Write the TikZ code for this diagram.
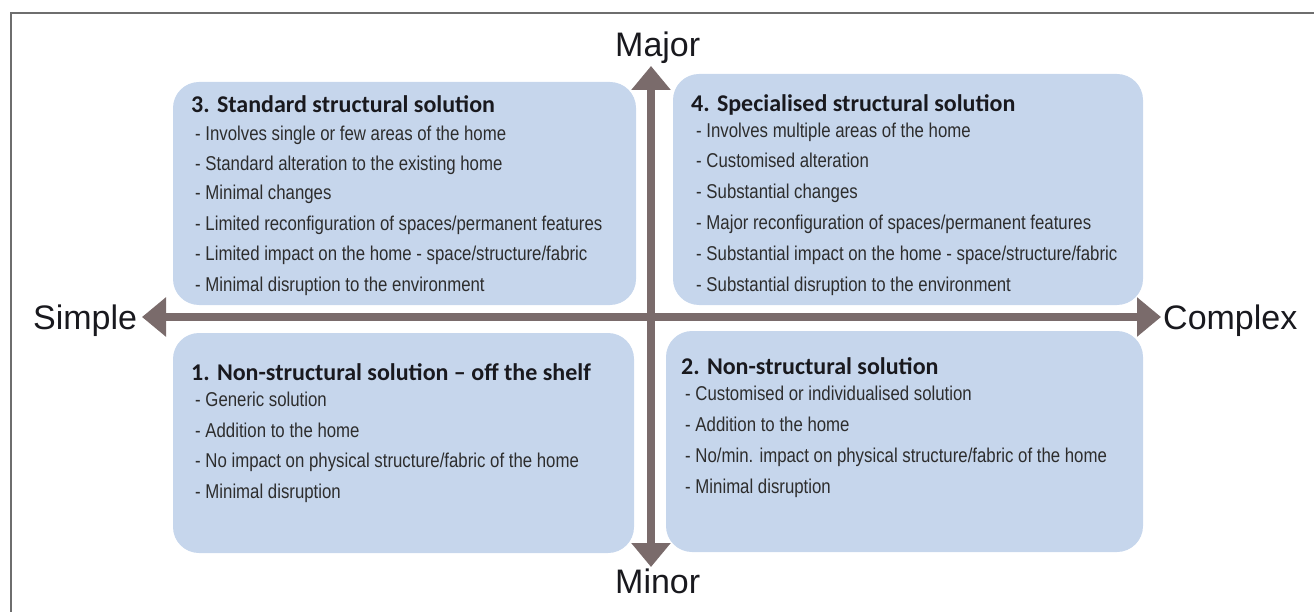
\documentclass[tikz,border=0pt]{standalone}
\usepackage{fontspec}
\setmainfont{Liberation Sans}
\newfontfamily\titlefont{Carlito}
\newfontfamily\bodyfont[FakeStretch=0.84]{Liberation Sans}
\usetikzlibrary{arrows.meta}
\definecolor{boxfill}{RGB}{198,214,236}
\definecolor{axiscol}{RGB}{122,107,107}
\definecolor{framecol}{RGB}{110,110,110}
\definecolor{bodytext}{RGB}{45,45,45}
\definecolor{titletext}{RGB}{25,25,30}
\begin{document}
\begin{tikzpicture}[x=1pt,y=-1pt,
 quad/.style={draw=none, fill=boxfill, rounded corners=26pt, inner sep=0pt},
 ttl/.style={anchor=base west, inner sep=0pt, font=\titlefont\bfseries\fontsize{24}{24}\selectfont, text=titletext},
 itm/.style={anchor=base west, inner sep=0pt, font=\bodyfont\fontsize{20}{20}\selectfont, text=bodytext},
 lbl/.style={anchor=base west, inner sep=0pt, font=\fontsize{34}{34}\selectfont, text=titletext},
 ax/.style={draw=axiscol, line width=8.5pt, {Triangle[width=38pt,length=24pt]}-{Triangle[width=38pt,length=24pt]}}]
\useasboundingbox (0,0) rectangle (1314,612);
\draw[framecol, line width=1.5pt] (11,612) -- (11,13) -- (1314,13);

% quadrant boxes
\node[quad, minimum width=463pt, minimum height=223pt] (b3) at (404.5,193.5) {};
\node[quad, minimum width=470pt, minimum height=231pt] (b4) at (908,189.5) {};
\node[quad, minimum width=461pt, minimum height=220pt] (b1) at (403.5,443) {};
\node[quad, minimum width=477pt, minimum height=221pt] (b2) at (904.5,441.5) {};

% box 3
\node[ttl] (t3) at (191,113) {3. Standard structural solution};
\node[itm] (t3a) at (195,141) {- Involves single or few areas of the home};
\node[itm] (t3b) at (195,171) {- Standard alteration to the existing home};
\node[itm] (t3c) at (195,200) {- Minimal changes};
\node[itm] (t3d) at (195,231) {- Limited reconfiguration of spaces/permanent features};
\node[itm] (t3e) at (195,261) {- Limited impact on the home - space/structure/fabric};
\node[itm] (t3f) at (195,291) {- Minimal disruption to the environment};

% box 4
\node[ttl] (t4) at (691,112) {4. Specialised structural solution};
\node[itm] (t4a) at (696,138) {- Involves multiple areas of the home};
\node[itm] (t4b) at (696,168) {- Customised alteration};
\node[itm] (t4c) at (696,199) {- Substantial changes};
\node[itm] (t4d) at (696,230) {- Major reconfiguration of spaces/permanent features};
\node[itm] (t4e) at (696,261) {- Substantial impact on the home - space/structure/fabric};
\node[itm] (t4f) at (696,291) {- Substantial disruption to the environment};

% box 1
\node[ttl] (t1) at (191,380) {1. Non-structural solution – off the shelf};
\node[itm] (t1a) at (195,406) {- Generic solution};
\node[itm] (t1b) at (195,437) {- Addition to the home};
\node[itm] (t1c) at (195,467) {- No impact on physical structure/fabric of the home};
\node[itm] (t1d) at (195,498) {- Minimal disruption};

% box 2
\node[ttl] (t2) at (681,374) {2. Non-structural solution};
\node[itm] (t2a) at (685,400) {- Customised or individualised solution};
\node[itm] (t2b) at (685,431) {- Addition to the home};
\node[itm] (t2c) at (685,462) {- No/min. impact on physical structure/fabric of the home};
\node[itm] (t2d) at (685,493) {- Minimal disruption};

% axes
\coordinate (W) at (142,317);
\coordinate (E) at (1161,317);
\coordinate (N) at (651,66);
\coordinate (S) at (651,567);
\draw[ax] (W) -- (E);
\draw[ax] (S) -- (N);

% axis labels
\node[lbl] (major) at (615,57) {Major};
\node[lbl] (minor) at (615,593) {Minor};
\node[lbl] (simple) at (33,329) {Simple};
\node[lbl] (complex) at (1163,329) {Complex};
\end{tikzpicture}
\end{document}
